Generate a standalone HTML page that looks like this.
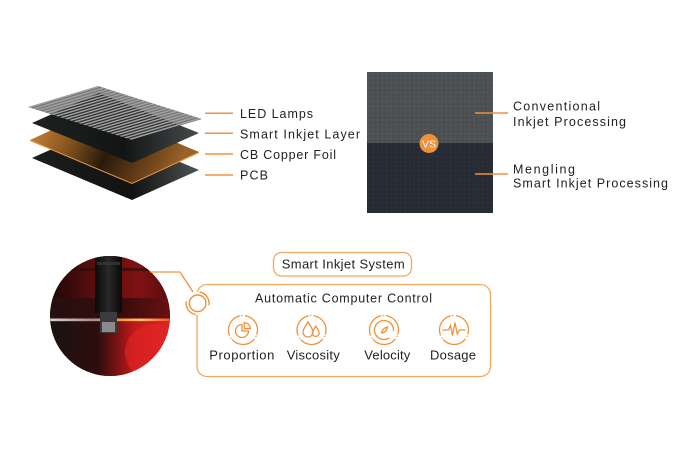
<!DOCTYPE html>
<html><head><meta charset="utf-8"><style>
html,body{margin:0;padding:0;background:#fff;width:700px;height:466px;overflow:hidden}
svg{display:block}
text{font-family:"Liberation Sans",sans-serif;fill:#1f1f1f}
</style></head><body>
<svg width="700" height="466" viewBox="0 0 700 466" xmlns="http://www.w3.org/2000/svg">
<defs>
  <pattern id="st" patternUnits="userSpaceOnUse" width="100" height="4.4" patternTransform="matrix(0.70 -0.21 1.04 0.33 28 107)">
    <rect width="100" height="2.3" fill="#a2a2a2"/>
  </pattern>
  <linearGradient id="blk" x1="0" y1="0" x2="1" y2="0">
    <stop offset="0" stop-color="#1e2121"/><stop offset="0.55" stop-color="#131515"/><stop offset="1" stop-color="#474b4b"/>
  </linearGradient>
  <linearGradient id="cu" x1="0" y1="0" x2="1" y2="0.2">
    <stop offset="0" stop-color="#d68d3e"/><stop offset="0.3" stop-color="#8a561f"/><stop offset="0.55" stop-color="#2a1a0c"/><stop offset="0.8" stop-color="#6a4018"/><stop offset="1" stop-color="#9a6428"/>
  </linearGradient>
  <linearGradient id="pcb" x1="0" y1="0" x2="1" y2="0">
    <stop offset="0" stop-color="#1c1e1e"/><stop offset="0.6" stop-color="#111212"/><stop offset="1" stop-color="#4e5252"/>
  </linearGradient>
  <pattern id="g1" width="4.6" height="4.6" patternUnits="userSpaceOnUse">
    <rect width="4.6" height="4.6" fill="#4b4e51"/>
    <path d="M0 0.4H4.6M0.4 0V4.6" stroke="#56595c" stroke-width="0.6"/>
  </pattern>
  <pattern id="g2" width="4.6" height="4.6" patternUnits="userSpaceOnUse">
    <rect width="4.6" height="4.6" fill="#262a33"/>
    <path d="M0 0.4H4.6M0.4 0V4.6" stroke="#2e323c" stroke-width="0.6"/>
  </pattern>
  <clipPath id="pc"><circle cx="110" cy="316" r="60"/></clipPath>
  <linearGradient id="ptop" x1="0" y1="0" x2="1" y2="0">
    <stop offset="0" stop-color="#1a0707"/><stop offset="0.35" stop-color="#5a0d0d"/><stop offset="0.75" stop-color="#7e1212"/><stop offset="1" stop-color="#5a0c0c"/>
  </linearGradient>
  <linearGradient id="pband" x1="0" y1="0" x2="1" y2="0">
    <stop offset="0" stop-color="#251010"/><stop offset="0.6" stop-color="#3a0c0c"/><stop offset="1" stop-color="#6a1010"/>
  </linearGradient>
  <linearGradient id="pline" x1="0" y1="0" x2="1" y2="0">
    <stop offset="0" stop-color="#d8d2d2"/><stop offset="0.35" stop-color="#a89090"/><stop offset="0.62" stop-color="#ff9a40"/><stop offset="0.75" stop-color="#ffc070"/><stop offset="1" stop-color="#ff5020"/>
  </linearGradient>
  <linearGradient id="plow" x1="0" y1="0" x2="1" y2="0">
    <stop offset="0" stop-color="#1a1212"/><stop offset="0.4" stop-color="#2e0d0d"/><stop offset="0.7" stop-color="#c01818"/><stop offset="1" stop-color="#e02424"/>
  </linearGradient>
  <linearGradient id="noz" x1="0" y1="0" x2="1" y2="0">
    <stop offset="0" stop-color="#0a0a0a"/><stop offset="0.5" stop-color="#2a2828"/><stop offset="1" stop-color="#080808"/>
  </linearGradient>
</defs>

<!-- Layer stack -->
<polygon points="32,158 99,128 199,170 132,200" fill="url(#pcb)"/>
<polygon points="30,140 97,109 199,152 132,183" fill="url(#cu)"/>
<polyline points="30,140.5 132,183.5 199,152.5" fill="none" stroke="#e8963a" stroke-width="1"/>
<polygon points="32,123 99,93 199,133 132,163" fill="url(#blk)"/>
<polygon points="28,107 98,86 202,119 132,140" fill="#3a3c3c" opacity="0.7"/>
<polygon points="28,107 98,86 202,119 132,140" fill="url(#st)"/>

<g stroke="#f0923c" stroke-width="1.5">
  <line x1="205" y1="113.3" x2="233" y2="113.3"/>
  <line x1="205" y1="133.3" x2="233" y2="133.3"/>
  <line x1="205" y1="154" x2="233" y2="154"/>
  <line x1="205" y1="175" x2="233" y2="175"/>
</g>
<g font-size="12.5">
  <text x="240" y="118" textLength="73" lengthAdjust="spacing">LED Lamps</text>
  <text x="240" y="138.3" textLength="120" lengthAdjust="spacing">Smart Inkjet Layer</text>
  <text x="240" y="159" textLength="96" lengthAdjust="spacing">CB Copper Foil</text>
  <text x="240" y="179.3" textLength="28" lengthAdjust="spacing">PCB</text>
</g>

<!-- Comparison image -->
<rect x="367" y="72" width="126" height="71" fill="url(#g1)"/>
<rect x="367" y="143" width="126" height="70" fill="url(#g2)"/>
<circle cx="429" cy="143.5" r="9.5" fill="#f0913a"/>
<text x="429" y="147.3" font-size="10.5" text-anchor="middle" style="fill:#fff">VS</text>
<g stroke="#f0923c" stroke-width="1.5">
  <line x1="475" y1="113" x2="508" y2="113"/>
  <line x1="475" y1="174" x2="508" y2="174"/>
</g>
<g font-size="12.5">
  <text x="513" y="110.7" textLength="87" lengthAdjust="spacing">Conventional</text>
  <text x="513" y="126" textLength="113" lengthAdjust="spacing">Inkjet Processing</text>
  <text x="513" y="173.3" textLength="62" lengthAdjust="spacing">Mengling</text>
  <text x="513" y="187.7" textLength="155" lengthAdjust="spacing">Smart Inkjet Processing</text>
</g>

<!-- Photo -->
<g clip-path="url(#pc)">
  <rect x="50" y="256" width="120" height="120" fill="#3a0a0a"/>
  <rect x="50" y="256" width="120" height="44" fill="url(#ptop)"/>
  <rect x="50" y="268" width="120" height="3" fill="#2a0808" opacity="0.6"/>
  <rect x="50" y="298" width="120" height="20.5" fill="url(#pband)"/>
  <rect x="50" y="318.5" width="120" height="2.8" fill="url(#pline)"/>
  <rect x="50" y="321.3" width="120" height="55" fill="url(#plow)"/>
  <ellipse cx="155" cy="352" rx="30" ry="28" fill="#e22626" opacity="0.6"/>
  <rect x="95" y="256" width="27" height="57" fill="url(#noz)"/>
  <rect x="97" y="262" width="23" height="3" fill="#3a3a3a" opacity="0.7"/>
  <rect x="100" y="312" width="17" height="21" fill="#3c3a3a"/>
  <rect x="102" y="322" width="13" height="10" fill="#8c8a8a"/>
</g>

<!-- Connector -->
<path d="M150,272 H180 L193,292" fill="none" stroke="#f0923c" stroke-width="1.3"/>

<!-- Boxes -->
<rect x="197" y="284.5" width="293.5" height="92" rx="10" fill="none" stroke="#f3a75e" stroke-width="1.3"/>
<rect x="273.5" y="252.5" width="138" height="23.5" rx="8" fill="#fff" stroke="#f3a75e" stroke-width="1.3"/>

<!-- Ring -->
<circle cx="197.6" cy="303.3" r="11.5" fill="#fff"/>
<circle cx="197.6" cy="303.3" r="8.3" fill="none" stroke="#f0923c" stroke-width="1.4"/>
<path d="M199.6,292 A11.5,11.5 0 0 1 208.9,305.3" fill="none" stroke="#f0923c" stroke-width="1.4"/>
<path d="M195.6,314.6 A11.5,11.5 0 0 1 186.3,301.3" fill="none" stroke="#f0923c" stroke-width="1.4"/>

<text x="281.7" y="268.3" font-size="13" textLength="123" lengthAdjust="spacing">Smart Inkjet System</text>
<text x="255" y="302.3" font-size="12.5" textLength="177" lengthAdjust="spacing">Automatic Computer Control</text>

<!-- Icons -->
<g fill="none" stroke="#f0923c" stroke-width="1.3" stroke-linecap="round">
  <circle cx="243" cy="330" r="14.5" stroke-dasharray="24.4 2.3 0.2 3.4" transform="rotate(-80 243 330)"/>
  <circle cx="311.5" cy="330" r="14.5" stroke-dasharray="24.4 2.3 0.2 3.4" transform="rotate(-80 311.5 330)"/>
  <circle cx="384" cy="330" r="14.5" stroke-dasharray="24.4 2.3 0.2 3.4" transform="rotate(-80 384 330)"/>
  <circle cx="454" cy="330" r="14.5" stroke-dasharray="24.4 2.3 0.2 3.4" transform="rotate(-80 454 330)"/>

  <path d="M242,324.5 A6.5,6.5 0 1 0 248.5,331 H242 Z"/>
  <path d="M244.3,328.7 V322.6 A6.2,6.2 0 0 1 250.4,328.7 Z"/>

  <path d="M308,322 C306,325.5 303,329 303,332 A5,5 0 0 0 313,332 C313,329 310,325.5 308,322 Z"/>
  <path d="M315.8,326 C314.5,328.5 312.4,331 312.4,333 A3.4,3.4 0 0 0 319.2,333 C319.2,331 317.1,328.5 315.8,326 Z"/>

  <circle cx="384" cy="330" r="9.5" stroke-dasharray="50 9.7" transform="rotate(60 384 330)"/>
  <path d="M381.5,333 C382,330 384,328 387.5,327 C387,330.5 385,332.5 381.5,333 Z"/>

  <path d="M443,330 H448.5 L450.5,325.5 L452.5,335.5 L455,322.5 L457.3,334 L459.3,330 H465"/>
</g>

<g font-size="13">
  <text x="209.3" y="359.3" textLength="65" lengthAdjust="spacing">Proportion</text>
  <text x="286.7" y="359.3" textLength="53" lengthAdjust="spacing">Viscosity</text>
  <text x="364.3" y="359.3" textLength="46" lengthAdjust="spacing">Velocity</text>
  <text x="430" y="359.3" textLength="46" lengthAdjust="spacing">Dosage</text>
</g>
</svg>
</body></html>
